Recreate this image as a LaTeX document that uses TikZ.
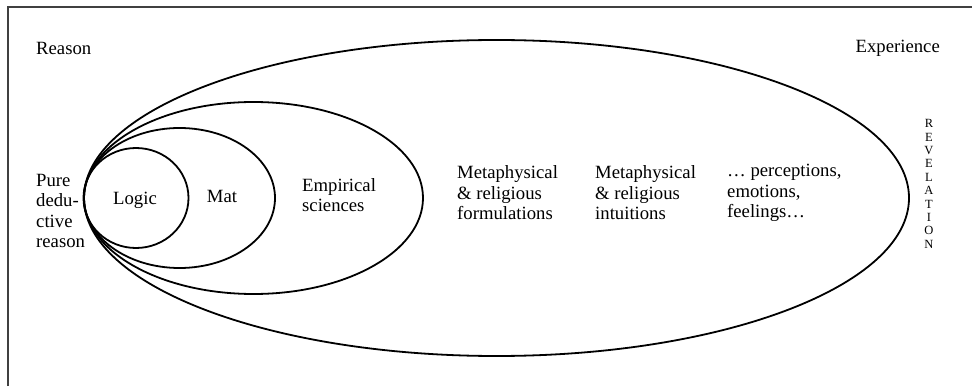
\documentclass[tikz,border=0pt]{standalone}
\usepackage{fontspec}
\setmainfont{Liberation Serif}

\begin{document}
\begin{tikzpicture}[x=1pt, y=1pt,
    ring/.style = {draw, line width=1.8pt},
    txt/.style = {inner sep=0pt, align=left, anchor=west,
        font=\fontsize{18.7}{20.5}\selectfont},
    letters/.style = {inner sep=0pt, align=center,
        font=\fontsize{12.5}{13.4}\selectfont}]
  \useasboundingbox (0,0) rectangle (972,386);
  % frame
  \draw[line width=1.4pt, black!75] (8,0) -- (8,379) -- (972,379);
  % nested fields
  \draw[ring] (136,188) ellipse [x radius=52.5, y radius=50];
  \draw[ring] (179.5,188) ellipse [x radius=95.5, y radius=70];
  \draw[ring] (253.5,188) ellipse [x radius=169.5, y radius=96];
  \draw[ring] (496.5,188) ellipse [x radius=412.5, y radius=158];
  % labels
  \node (rsn) [txt] at (36,338) {Reason};
  \node (exp) [txt, anchor=east] at (940,338) {Experience};
  \node (pdr) [txt] at (36,175) {Pure\\dedu-\\ctive\\reason};
  \node (lgc) [txt, anchor=center] at (135,186) {Logic};
  \node (mat) [txt, anchor=center] at (222,190) {Mat};
  \node (emp) [txt] at (302,191) {Empirical\\sciences};
  \node (mrf) [txt] at (457,193) {Metaphysical\\\& religious\\formulations};
  \node (mri) [txt] at (595,193) {Metaphysical\\\& religious\\intuitions};
  \node (pef) [txt] at (727,193) {… perceptions,\\emotions,\\feelings…};
  \node (rev) [letters] at (929,202) {R\\E\\V\\E\\L\\A\\T\\I\\O\\N};
\end{tikzpicture}
\end{document}
